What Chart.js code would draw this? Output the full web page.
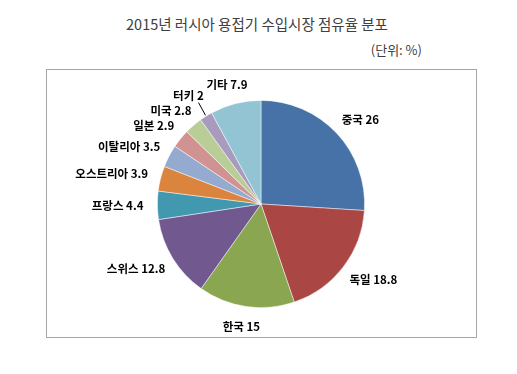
<!DOCTYPE html>
<html>
<head>
<meta charset="utf-8">
<script src="https://cdn.jsdelivr.net/npm/chart.js@4.4.1/dist/chart.umd.min.js"></script>
<style>
  html, body { margin: 0; padding: 0; background: #fff; }
  #wrap { position: relative; width: 517px; height: 374px; overflow: hidden; }
  #title { position: absolute; left: 0; top: 14px; width: 514px; text-align: center;
           font: 14.5px "Noto Sans CJK KR", sans-serif; line-height: 20px; color: #404040; }
  #unit { position: absolute; right: 95px; top: 40px; text-align: right;
          font: 13px "Noto Sans CJK KR", sans-serif; line-height: 20px; color: #404040; }
  #box { position: absolute; left: 46px; top: 69px; width: 431px; height: 269px;
         box-sizing: border-box; border: 1px solid #a6a6a6; }
  canvas { position: absolute; left: 0; top: 0; }
</style>
</head>
<body>
<div id="wrap">
  <div id="title">2015년 러시아 용접기 수입시장 점유율 분포</div>
  <div id="unit">(단위: %)</div>
  <div id="box"></div>
  <canvas id="c" width="517" height="374"></canvas>
</div>
<script>
const categories = ['중국', '독일', '한국', '스위스', '프랑스', '오스트리아', '이탈리아', '일본', '미국', '터키', '기타'];
const shares = [26, 18.8, 15, 12.8, 4.4, 3.9, 3.5, 2.9, 2.8, 2, 7.9];
const colors = ['#4672a8', '#aa4644', '#8aa650', '#71598f', '#4298af', '#db843d', '#94aacf', '#d19392', '#b9cd97', '#a99bbd', '#93c4d4'];

const labelPlugin = {
  id: 'outLabels',
  afterDatasetsDraw(chart) {
    const ctx = chart.ctx;
    const meta = chart.getDatasetMeta(0);
    ctx.save();
    ctx.font = 'bold 11.5px "Noto Sans CJK KR", sans-serif';
    ctx.fillStyle = '#000';
    ctx.textBaseline = 'middle';
    ctx.textAlign = 'center';
    meta.data.forEach((arc, i) => {
      const p = arc.getProps(['x', 'y', 'startAngle', 'endAngle', 'outerRadius'], true);
      const mid = (p.startAngle + p.endAngle) / 2;
      const dx = Math.cos(mid), dy = Math.sin(mid);
      const text = categories[i] + ' ' + shares[i];
      const w = ctx.measureText(text).width;
      const h = 12;
      let dist = p.outerRadius + 14;
      if (shares[i] <= 2) {
        dist = p.outerRadius + 18;
        ctx.strokeStyle = '#000';
        ctx.lineWidth = 1;
        ctx.beginPath();
        ctx.moveTo(p.x + dx * (p.outerRadius + 1), p.y + dy * (p.outerRadius + 1));
        ctx.lineTo(p.x + dx * (p.outerRadius + 16) + 1, p.y + dy * (p.outerRadius + 16));
        ctx.stroke();
      }
      const px = p.x + dx * dist, py = p.y + dy * dist;
      const cx = px + dx * w / 2, cy = py + dy * h / 2;
      ctx.fillText(text, cx, cy);
    });
    ctx.restore();
  }
};

new Chart(document.getElementById('c'), {
  type: 'pie',
  data: {
    labels: categories,
    datasets: [{
      data: shares,
      backgroundColor: colors,
      borderColor: 'rgba(255,255,255,0.6)',
      borderWidth: 0.8
    }]
  },
  options: {
    responsive: false,
    animation: false,
    devicePixelRatio: 1,
    layout: { padding: { left: 157, right: 152, top: 100, bottom: 66 } },
    plugins: { legend: { display: false }, tooltip: { enabled: false }, title: { display: false } }
  },
  plugins: [labelPlugin]
});
</script>
</body>
</html>
